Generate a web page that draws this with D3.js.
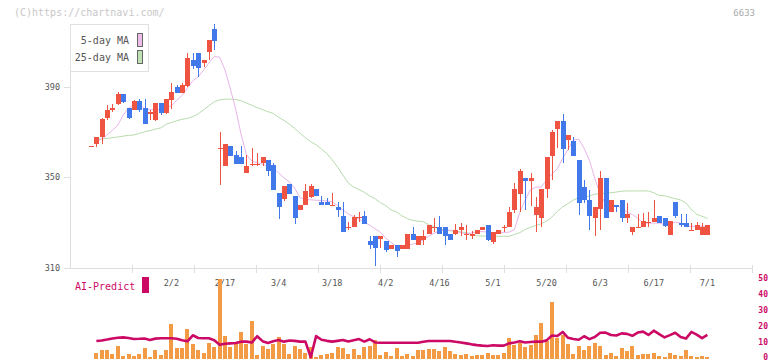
<!DOCTYPE html>
<html><head><meta charset="utf-8">
<script src="https://cdn.jsdelivr.net/npm/d3@7"></script>
<style>body{margin:0;background:#fff}svg{display:block}text{font-family:"DejaVu Sans Mono",monospace}</style>
</head><body><div id="chart"></div>
<script>
// candle data, index 0..115 (Jan 9 .. Jul 1)
const opens  = [363.7,364.6,367.6,376.1,379.5,382.4,386.8,380.6,379.5,383.7,380.6,377.8,375.3,382.7,378.6,384.1,389.9,387.4,390.5,401.8,404.9,400.6,405.4,415.4,362.9,354.8,363.9,359.9,359.2,351.7,356,356,356.5,357.7,355.5,343.2,340.5,347.1,341.8,335.7,337.6,341.3,344.9,339.1,339.1,337.9,337.1,333,328.3,328,332.7,333,322,324.2,322.8,322,318.6,320.3,318.5,318.5,325.1,320,322.5,325,328.2,328.2,328.2,325.1,325,326.6,325.1,324,325.1,326.6,329,321.6,325,328,327.9,335.7,342.7,349.8,348.6,333.5,331.9,344.8,359.6,371.5,374.9,366.7,366.1,357.7,345.6,340.1,332,336,349.8,334.5,337.7,340.1,331.9,325.7,328,327.9,330.5,330.5,333,332.1,324.7,339.2,329.8,329.8,326.9,326.9,324.7,324.7];
const highs  = [363.7,368,376,382,382.4,387.8,386.8,380.6,384,384.4,384.4,379.5,383,383,384.6,391.5,390.6,391.5,404.9,404.9,404.9,401.8,410.6,417.6,370.2,364.8,364,361.7,363.9,359.9,362.8,360.6,358.9,357.7,356.2,343.2,346,347.1,341.8,337.8,347,347,344.9,341.8,340.8,343.3,339.2,339.1,330.5,333.5,334.6,335,324.2,324.2,324.2,322,320.3,320.3,320.3,325.1,328.2,324.2,326.9,329.1,332,333,328.2,325.1,329.4,329.8,329.1,326.5,326.9,328.3,329,326,326.9,329,337.1,347.7,353.7,349.8,352.1,341.5,345,359,370.9,374.9,378,368.7,367.7,357.7,348.9,344.2,337.1,353,349.8,340.1,337.7,340.1,338.6,328.3,333.9,334.2,334.9,340.1,333,332.1,330.8,339.2,333.9,333.9,329.8,330.5,329.8,328.9];
const lows   = [363.7,363.5,364.6,375.3,379,382,382.7,375.6,379.5,379,373.7,375.3,375,377.5,378,380,387.4,387,390,397.7,394.4,398.5,401.8,406.2,346.7,354.8,359.6,355.7,355.7,351.7,355,354.8,354.8,350.8,344.5,331.7,339.6,342.7,329.6,335.7,337.6,341,341.6,337.6,337.6,337.4,332.7,325.7,326.6,328,330.5,329.6,318.5,310.7,318.7,317.2,318.6,314.8,318.5,318.5,322.5,320,320,325,326.1,325,320,322.5,324.5,324,322.5,322.8,325.1,326.6,321.7,320.7,325,326,327.9,334.2,334.5,335.7,337.4,325.7,328,340.8,348.9,362.8,356.5,362,359.6,333.5,338.9,326.6,323.9,326.6,332,334.5,334.5,330.5,329.8,324.7,328,327.9,328,330.5,329.8,328,324.7,332,328,327.9,326.9,326.9,324.7,324.7];
const closes = [363.7,367.9,375.8,379.8,380.6,386.8,383.4,376.4,383.7,379.5,373.7,378.9,382.7,378.6,384.4,387.8,387.4,390.8,402.8,399.3,398.4,401.6,410.6,410.3,362.9,364.8,359.6,355.7,355.7,355.1,356,356,358.9,352.6,344.5,336.7,346,342.7,331.9,337.8,344,346,341.6,337.6,337.6,337.9,335.7,325.7,328.3,332.3,332.7,329.6,320,318.7,324.2,317.9,320.3,317.7,320.3,325.1,322.5,324.2,324.2,329.1,328.2,325,324,322.5,326.9,328.2,325.1,325.1,326.9,328.3,322.5,325.8,326.9,328,334.8,344.9,352.9,348.6,349.8,336.9,344.8,359,370,374.9,362.7,368.7,359.6,338.9,339.8,332.8,337.1,349.8,332,340.1,336.8,332,333.9,328.3,328,330.7,330.5,332.1,329.8,328.6,330.8,332.8,328.8,327.9,326.9,328.9,328,328.9];
// moving averages (null = not drawn)
const ma5  = [null,365.8,366.8,368.8,370.8,373,377.5,380.5,382.3,382.5,380.2,379.8,380,380,380.7,381.6,384,386.2,389.5,392.6,394.4,397.3,400.5,403.3,403,397.4,389,380,369,360,357.2,356.4,355.8,355,354,352,349.8,348,345.3,341,340.2,340.1,339.9,339.8,339.6,339.2,337.5,335.6,333.9,332.6,331.6,330.2,328.9,327.3,325.7,323.2,321.2,319.6,319.5,319.8,320.5,321.4,322.5,324,325.4,326.2,326.8,326.7,326.2,325.6,325.1,325.5,325.9,326.1,325.8,325.5,325.8,325.7,325.8,327,334.6,340,344.5,345.7,345.7,348.9,351.5,353.8,358.4,362.3,366.5,366.8,362.8,357.5,349.5,342.5,338.4,337.2,337.5,336.5,334.7,333.6,332,329.9,329.8,329.8,329.8,329.2,329.5,330.2,329.8,328.6,328.3,328.5,328.5,328.2];
const ma25 = [null,366.8,367,367.2,367.5,367.8,368.2,368.5,368.7,369.4,370.1,370.6,371.3,371.8,373.4,374.2,375,375.6,376,376.8,378,379.8,381.6,383.4,384.2,384.5,384.5,384.4,383.8,382.8,381.8,380.8,379.9,379,378.2,376.5,375.1,373.5,371.6,369.5,367.5,365.7,364.4,362.5,360.5,357.7,354.5,351,347.5,345.7,344.6,343.4,341.8,340.6,338.8,337.5,335.6,334.8,333,331.8,331,330.7,330.4,329.2,328.1,327.2,326.8,326.4,326.2,326,325.6,325,324.2,324.1,324.1,324,324,324,324,324.8,325.6,327,328,328.8,329.5,330.8,332.5,335,337,338.4,340,341,341.1,341.8,342.6,342.8,342.9,343.2,343.5,343.9,344,344,344,344,344,343.2,342,341.9,341.2,340.6,340,338.7,335.8,333.7,332.8,331.9];
// volume (relative, lower panel) and AI-Predict values (0-50 axis)
const volumes = [null,3.8,5.7,5.7,3.1,8.2,1.9,3.1,1.9,3.1,6.9,1.3,5.7,2.5,5.7,22,6.9,6.9,18.9,9.4,5.7,3.8,10,7.5,50.1,14.5,7.5,10.7,17,9.4,23.9,2.5,8.2,6.3,9.4,13.8,9.4,3.1,8.2,6.3,3.8,7.5,1.3,2.5,3.1,3.8,7.5,6.9,3.1,6.3,2.5,7.5,8.2,11.9,2.5,4.4,1.9,6.9,1.9,3.1,1.9,5.7,5.7,6.3,6.3,5.0,7.5,5.0,3.1,2.5,3.1,1.9,2.5,2.5,3.8,2.5,2.5,3.8,13.2,8.8,10.1,7.5,8.8,15.1,22.6,11.3,35.8,13.2,15.1,9.4,3.1,8.2,5.7,8.2,10.1,8.2,2.5,3.8,1.9,6.9,5.0,8.2,2.5,3.1,3.1,3.8,1.9,1.3,3.8,2.5,1.9,5.7,1.9,1.3,1.9,1.3];
const aiPredict = [null,10.5,10.8,11.4,12.1,12.5,12.8,12.4,11.8,11.9,12.1,11.2,12.0,12.2,12.2,12.2,11.9,11.0,10.3,14.1,12.4,12.2,12.2,11.0,8.2,8.8,9.0,9.2,10.1,10.1,9.5,13.5,10.4,9.3,10.3,11.1,10.1,10.8,10.6,10.1,10.1,0.3,13.6,11.3,10.6,10.1,10.6,11.1,10.2,11.0,11.7,10.1,11.6,9.6,9.4,9.4,9.4,9.4,9.4,9.4,9.4,9.4,10.0,10.5,10.5,10.5,10.5,10.5,10.0,9.6,9.0,8.4,7.9,7.6,7.4,7.8,7.6,7.6,9.0,9.6,10.4,9.6,9.9,10.1,10.1,10.9,14.0,13.6,16.2,12.5,11.8,11.3,13.5,11.7,13.0,15.7,15.8,14.3,14.0,15.3,15.0,13.8,15.8,16.4,14.3,17.0,14.8,12.8,14.2,15.7,13.0,12.0,16.2,14.5,12.3,14.3];
const priceTicks = [310, 350, 390];
const dateLabels = ["2/2","2/17","3/4","3/18","4/2","4/16","5/1","5/20","6/3","6/17","7/1"];
const dateLabelIdx = [15,25,35,45,55,65,75,85,95,105,115];
const aiTicks = [0,10,20,30,40,50];
const gridSlots = d3.range(0, 12);

const W = 772, H = 361;
const svg = d3.select("#chart").append("svg").attr("width", W).attr("height", H);

const x = d3.scaleLinear().domain([0, 115]).range([91, 707.4]);
const xGrid = d3.scaleLinear().domain([0, 11]).range([70, 752]);
const y = d3.scaleLinear().domain([310, 390]).range([268, 86.7]);
const yVol = d3.scaleLinear().domain([0, 50]).range([359, 279.5]);
const yAI = d3.scaleLinear().domain([0, 50]).range([357.7, 278.2]);

const RED = "#ef5442", BLUE = "#4279ea";
const axisCol = "#dedede", labCol = "#555";

// watermark & code
svg.append("text").attr("x", 14).attr("y", 16).attr("font-size", 10).attr("fill", "#c8c8c8").text("(C)https://chartnavi.com/");
svg.append("text").attr("x", 755).attr("y", 16).attr("text-anchor", "end").attr("font-size", 9).attr("fill", "#aaa").text("6633");

// axes
svg.append("line").attr("x1", 70.5).attr("x2", 70.5).attr("y1", 24).attr("y2", y(310)).attr("stroke", axisCol);
svg.append("line").attr("x1", 70).attr("x2", 752).attr("y1", y(310) + 0.5).attr("y2", y(310) + 0.5).attr("stroke", axisCol);
svg.append("g").selectAll("line").data(gridSlots.slice(1)).join("line")
  .attr("x1", d => Math.round(xGrid(d)) + 0.5).attr("x2", d => Math.round(xGrid(d)) + 0.5)
  .attr("y1", y(310) - 3).attr("y2", y(310) + 5).attr("stroke", axisCol);
const yt = svg.append("g");
yt.selectAll("line").data(priceTicks).join("line")
  .attr("x1", 64).attr("x2", 70).attr("y1", d => Math.round(y(d)) + 0.5).attr("y2", d => Math.round(y(d)) + 0.5).attr("stroke", axisCol);
yt.selectAll("text").data(priceTicks).join("text")
  .attr("x", 60).attr("y", d => y(d) + 3).attr("text-anchor", "end").attr("font-size", 8.5).attr("fill", labCol).text(d => d);
svg.append("g").selectAll("text").data(dateLabels).join("text")
  .attr("x", (d, k) => x(dateLabelIdx[k])).attr("y", 286).attr("text-anchor", "middle")
  .attr("font-size", 8.5).attr("fill", labCol).text(d => d);

// MA lines
const idx = d3.range(0, 116);
const line = arr => d3.line().defined(i => arr[i] != null).x(i => x(i)).y(i => y(arr[i]))(idx);
svg.append("path").attr("d", line(ma25)).attr("fill", "none").attr("stroke", "#b7dcac").attr("stroke-width", 1);
svg.append("path").attr("d", line(ma5)).attr("fill", "none").attr("stroke", "#e9b4ea").attr("stroke-width", 1);

// candles
const cg = svg.append("g").attr("shape-rendering", "crispEdges");
idx.forEach(i => {
  const o = opens[i], c = closes[i], col = c >= o ? RED : BLUE;
  const cx = Math.round(x(i));
  cg.append("rect").attr("x", cx).attr("width", 1).attr("y", y(highs[i])).attr("height", Math.max(1, y(lows[i]) - y(highs[i]))).attr("fill", col);
  const top = y(Math.max(o, c)), bot = y(Math.min(o, c));
  cg.append("rect").attr("x", cx - 2).attr("width", 5).attr("y", top).attr("height", Math.max(1, bot - top)).attr("fill", col);
});

// legend
const lg = svg.append("g");
lg.append("rect").attr("x", 70.5).attr("y", 24.5).attr("width", 78).attr("height", 47).attr("fill", "#fff").attr("stroke", "#e0e0e0");
[["5-day MA", "#ecbde9", 40], ["25-day MA", "#bfe0b3", 57]].forEach(([t, c, yy]) => {
  lg.append("text").attr("x", 129).attr("y", yy + 4).attr("text-anchor", "end").attr("font-size", 10).attr("fill", "#555").text(t);
  lg.append("rect").attr("x", 137.5).attr("y", yy - 6.5).attr("width", 5).attr("height", 13).attr("fill", c).attr("stroke", "#666");
});

// lower panel: volume
svg.append("g").attr("shape-rendering", "crispEdges").selectAll("rect").data(idx.filter(i => volumes[i] != null)).join("rect")
  .attr("x", i => Math.round(x(i)) - 2).attr("width", 4)
  .attr("y", i => yVol(volumes[i])).attr("height", i => yVol(0) - yVol(volumes[i])).attr("fill", "#f39a44");

// AI predict
svg.append("path").attr("d", d3.line().defined(i => aiPredict[i] != null).x(i => x(i)).y(i => yAI(aiPredict[i]))(idx))
  .attr("fill", "none").attr("stroke", "#cc0a66").attr("stroke-width", 2.6).attr("stroke-linejoin", "round");
svg.append("g").selectAll("text").data(aiTicks).join("text")
  .attr("x", 768).attr("y", d => Math.min(yAI(d) + 3, 359.5)).attr("text-anchor", "end").attr("font-size", 8).attr("font-weight", "bold")
  .attr("fill", "#cc0a66").text(d => d);
svg.append("text").attr("x", 75).attr("y", 290).attr("font-size", 10).attr("fill", "#cc0a66").text("AI-Predict");
svg.append("rect").attr("x", 142).attr("y", 277).attr("width", 7).attr("height", 16).attr("fill", "#cc0a66");
</script></body></html>
